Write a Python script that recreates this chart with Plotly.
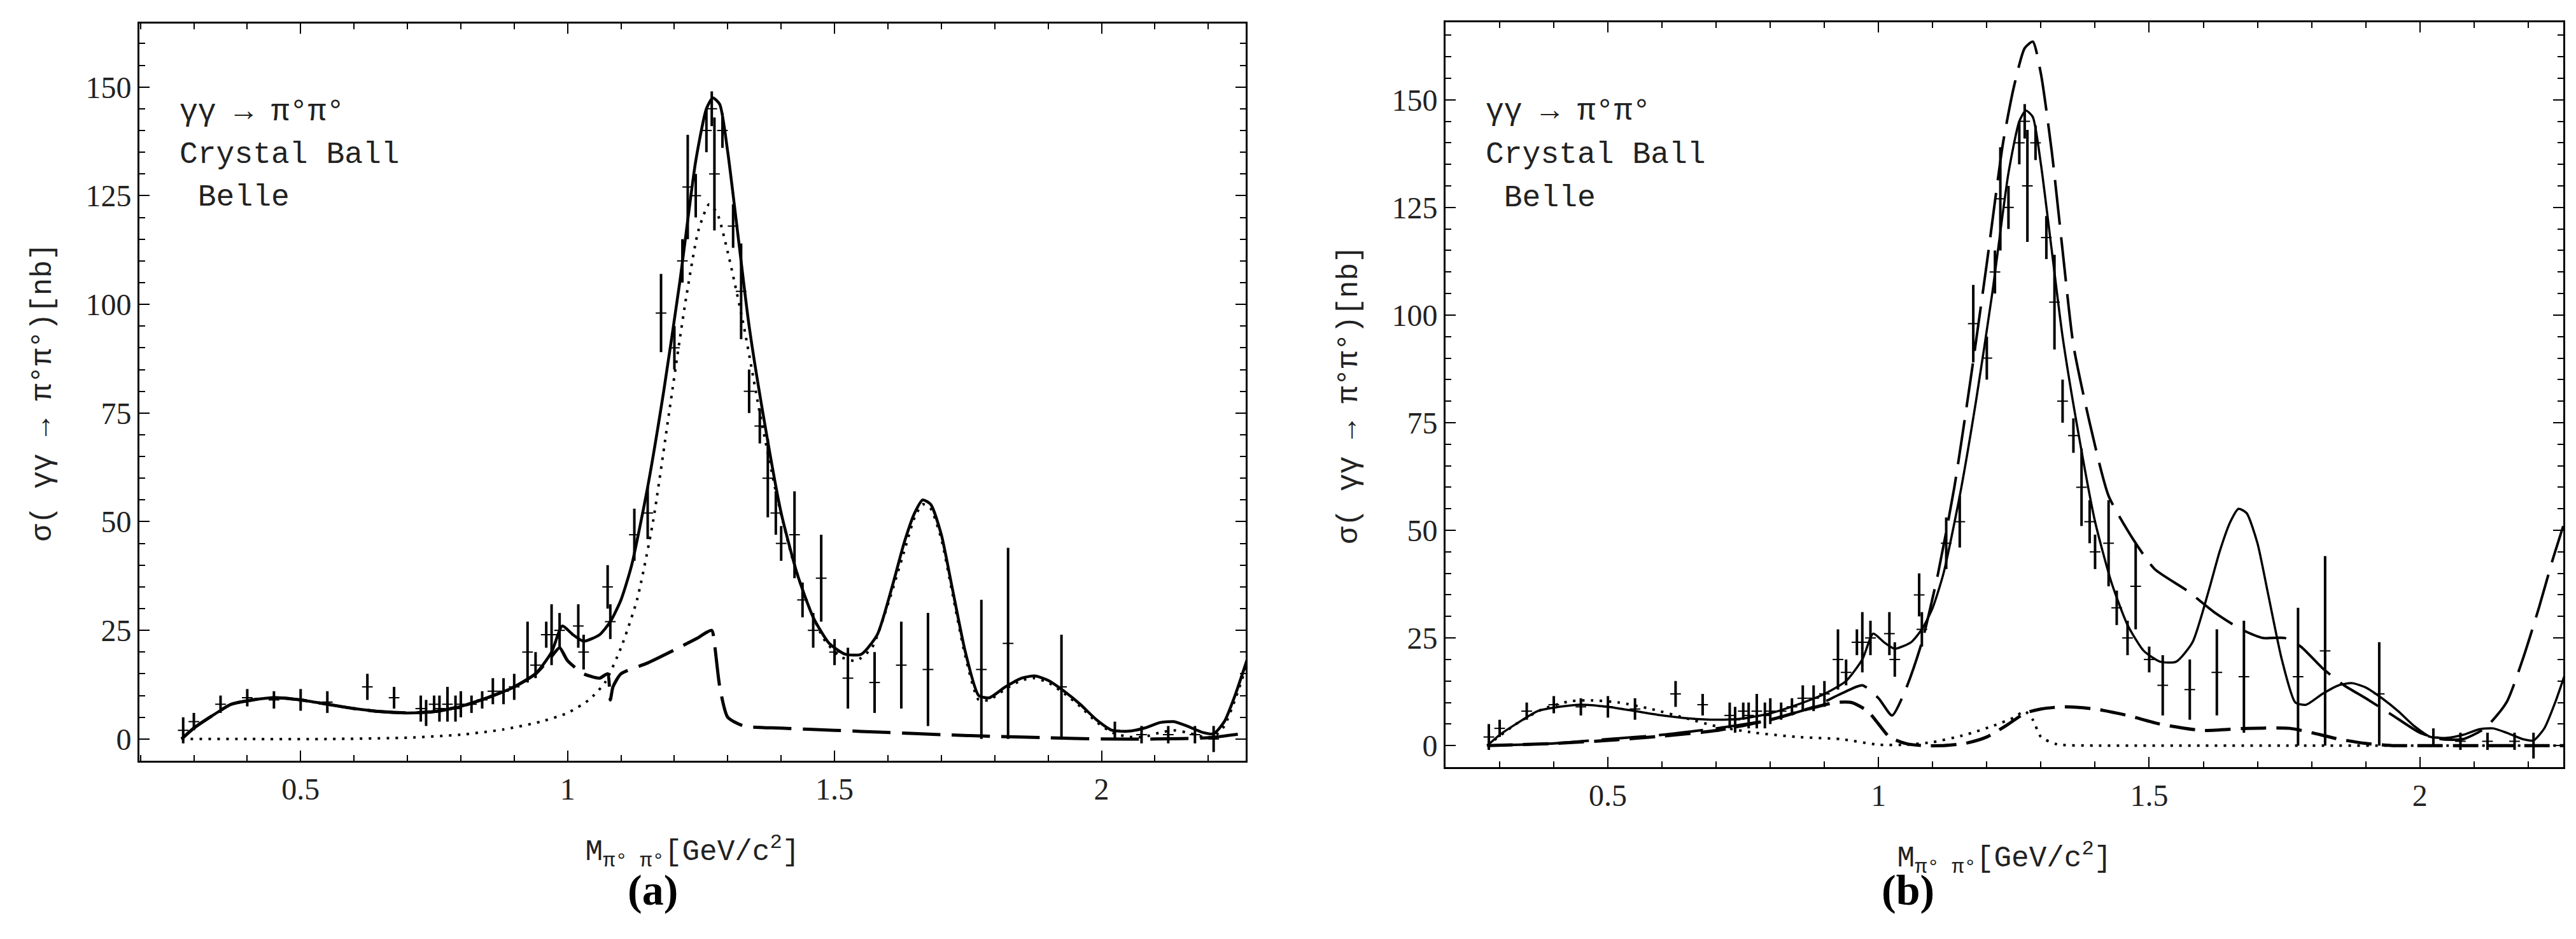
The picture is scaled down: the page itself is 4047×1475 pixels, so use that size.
import plotly.graph_objects as go

# ---------------- data ----------------
# experimental points (shared by both panels): mass, cross section, error
data_x = [0.28, 0.30, 0.35, 0.40, 0.45, 0.50, 0.55, 0.625, 0.675, 0.725, 0.735, 0.75, 0.76, 0.775, 0.79,
          0.80, 0.82, 0.84, 0.86, 0.88, 0.90, 0.925, 0.94, 0.96, 0.97, 0.985, 1.02, 1.03, 1.075, 1.08,
          1.125, 1.15, 1.175, 1.20, 1.215, 1.225, 1.24, 1.26, 1.27, 1.275, 1.29, 1.31, 1.325, 1.34,
          1.36, 1.375, 1.39, 1.40, 1.425, 1.44, 1.46, 1.475, 1.50, 1.525, 1.575, 1.625, 1.675, 1.775,
          1.825, 1.925, 2.025, 2.075, 2.125, 2.175, 2.21]
data_y = [2, 4, 8, 9.5, 9, 9, 8.5, 12, 9.5, 7, 6, 8, 7, 8, 7,
          8, 8, 9, 11, 11, 12, 20, 17, 24, 24, 25, 26, 20, 35, 27,
          47, 52, 98, 90, 110, 127, 125, 140, 145, 130, 140, 118, 103, 80,
          72, 60, 52, 45, 47, 32, 25, 37, 20, 14, 13, 17, 16, 16,
          22, 12, 2, 1, 1, 1, 0]
data_err = [3, 2, 2, 2, 2, 2.5, 2.5, 3, 2.5, 3, 3, 2, 3, 4, 3,
            3, 2, 2, 3, 3, 3, 7, 3, 3, 7, 4, 5, 4, 5, 4,
            6, 6, 9, 5, 5, 12, 5, 5, 4, 13, 4, 5, 11, 5,
            4, 9, 5, 4, 10, 4, 4, 10, 3, 7, 7, 10, 13, 16,
            22, 12, 2, 2, 2, 2, 3]

# panel (a) curves
a_full_x = [0.277, 0.30, 0.33, 0.37, 0.41, 0.45, 0.50, 0.55, 0.60, 0.65, 0.70, 0.75, 0.80, 0.85, 0.90,
            0.94, 0.97, 0.99, 1.01, 1.03, 1.06, 1.08, 1.10, 1.12, 1.15, 1.18, 1.21, 1.24, 1.26, 1.272,
            1.285, 1.30, 1.32, 1.34, 1.37, 1.40, 1.43, 1.46, 1.49, 1.52, 1.55, 1.58, 1.61, 1.63, 1.65,
            1.665, 1.68, 1.70, 1.72, 1.745, 1.77, 1.79, 1.82, 1.85, 1.875, 1.90, 1.93, 1.96, 1.99,
            2.02, 2.05, 2.08, 2.11, 2.135, 2.16, 2.19, 2.21, 2.23, 2.25, 2.28]
a_full_y = [0, 2.5, 5, 8, 9, 9.5, 9, 8, 7, 6.3, 6, 6.3, 7.5, 9.5, 12,
            15, 20, 26, 24, 22.5, 24, 27, 32, 40, 58, 80, 105, 133, 145, 147.5,
            146, 135, 115, 95, 72, 52, 38, 28, 22, 19.5, 19.5, 24, 36, 45, 52,
            55, 54, 47, 35, 20, 10, 9.5, 12, 14, 14.5, 13.5, 11, 8, 4.5,
            2, 1.8, 2.5, 3.8, 4, 3, 1.5, 1.2, 4, 10, 21]
a_dot_x = [0.277, 0.40, 0.55, 0.70, 0.80, 0.88, 0.95, 1.00, 1.04, 1.07, 1.10, 1.13, 1.16, 1.19, 1.22,
           1.245, 1.265, 1.28, 1.30, 1.33, 1.36, 1.39, 1.42, 1.45, 1.48, 1.51, 1.54, 1.57, 1.60, 1.63,
           1.65, 1.665, 1.68, 1.70, 1.72, 1.745, 1.77, 1.79, 1.82, 1.85, 1.875, 1.90, 1.93, 1.96, 1.99,
           2.02, 2.05, 2.08, 2.11, 2.135, 2.16, 2.19, 2.21, 2.23, 2.25, 2.28]
a_dot_y = [0, 0, 0, 0.3, 1, 2.2, 4, 6, 9, 13, 21, 32, 50, 75, 100,
           117, 123, 121, 112, 95, 75, 57, 42, 31, 23, 19, 18, 21, 31, 43,
           51, 54, 53, 46, 34, 19, 9, 9, 11.5, 13.5, 14, 13, 10.5, 7.5, 4,
           1.5, 0.5, 0.5, 1.5, 2, 1.5, 0.5, 0.5, 3, 9, 20]
a_dash_x = [0.277, 0.30, 0.33, 0.37, 0.41, 0.45, 0.50, 0.55, 0.60, 0.65, 0.70, 0.75, 0.80, 0.85, 0.90,
            0.94, 0.97, 0.985, 1.00, 1.03, 1.06, 1.075, 1.08, 1.085, 1.10, 1.15, 1.20, 1.24, 1.27,
            1.275, 1.285, 1.30, 1.33, 1.40, 1.50, 1.60, 1.70, 1.80, 1.90, 2.00, 2.10, 2.20, 2.28]
a_dash_y = [0, 2.5, 5, 8, 9, 9.5, 9, 8, 7, 6.3, 6, 6.3, 7.5, 9.5, 12,
            15, 19, 21, 18, 15, 14, 15, 9, 12, 15, 17.5, 20.5, 23, 25,
            22, 12, 5, 3, 2.5, 2, 1.5, 1, 0.6, 0.3, 0, 0, 0.3, 1.5]

# panel (b) curves
b_full_x = a_full_x
b_full_y = a_full_y
b_long_x = [0.277, 0.40, 0.50, 0.60, 0.70, 0.80, 0.88, 0.93, 0.97, 1.00, 1.025, 1.05, 1.08, 1.11, 1.14,
            1.17, 1.20, 1.23, 1.25, 1.27, 1.285, 1.30, 1.32, 1.34, 1.36, 1.39, 1.425, 1.47, 1.51, 1.57,
            1.62, 1.67, 1.71, 1.75, 1.78, 1.82, 1.86, 1.90, 1.95, 2.00, 2.04, 2.08, 2.12, 2.16, 2.19,
            2.22, 2.245, 2.265]
b_long_y = [0, 0.5, 1.5, 2.5, 4, 6, 9, 12, 14, 11, 7, 13, 24, 40, 60,
            85, 112, 140, 153, 162, 163.5, 156, 138, 115, 93, 75, 58, 48, 41, 36,
            31, 27, 25, 25, 23, 18, 14, 11, 7, 3, 1.5, 1.5, 4, 10, 20,
            32, 43, 51]
b_dash_x = [0.277, 0.40, 0.50, 0.60, 0.70, 0.80, 0.87, 0.92, 0.95, 0.98, 1.00, 1.02, 1.05, 1.08, 1.12,
            1.16, 1.20, 1.24, 1.27, 1.30, 1.34, 1.40, 1.46, 1.52, 1.60, 1.68, 1.76, 1.80, 1.85, 1.90,
            1.95, 2.00, 2.10, 2.20, 2.28]
b_dash_y = [0, 0.5, 1.2, 2.2, 3.5, 6, 8.5, 10, 10, 8, 5, 2, 0.5, 0, 0,
            0.5, 2, 5, 7.5, 8.5, 9, 8.5, 7, 5, 3.5, 4, 4, 3, 1.5, 0.5,
            0, 0, 0, 0, 0]
b_dot_x = [0.277, 0.33, 0.38, 0.43, 0.47, 0.52, 0.58, 0.64, 0.70, 0.77, 0.85, 0.93, 1.00, 1.05, 1.10,
           1.16, 1.21, 1.25, 1.27, 1.285, 1.30, 1.33, 1.40, 1.60, 1.80, 2.00, 2.20, 2.28]
b_dot_y = [0, 5, 8.5, 10.3, 10.5, 10, 8.5, 6.5, 4.5, 3, 2, 1.5, 0.2, 0.2, 0.8,
           2.5, 4.5, 6.5, 8, 6, 2, 0.3, 0, 0, 0, 0, 0, 0]

x_ticks = [0.5, 1, 1.5, 2]
x_tick_text = ["0.5", "1", "1.5", "2"]
y_ticks = [0, 25, 50, 75, 100, 125, 150]

# ---------------- figure ----------------
W, H = 4047, 1475
fig = go.Figure()

def line(x, y, dash, width, xa, ya):
    fig.add_trace(go.Scatter(x=x, y=y, mode="lines", xaxis=xa, yaxis=ya, showlegend=False,
                             line=dict(color="black", width=width, dash=dash, shape="spline",
                                       smoothing=0.6)))

def points(xa, ya):
    fig.add_trace(go.Scatter(x=data_x, y=data_y, mode="markers", xaxis=xa, yaxis=ya, showlegend=False,
                             marker=dict(symbol="line-ew", size=12, color="black",
                                         line=dict(color="black", width=2)),
                             error_y=dict(type="data", array=data_err, visible=True,
                                          color="black", thickness=4, width=0)))

# panel a
points("x", "y")
line(a_dot_x, a_dot_y, "4px,10px", 4, "x", "y")
line(a_dash_x, a_dash_y, "60px,18px", 5, "x", "y")
line(a_full_x, a_full_y, "solid", 4.5, "x", "y")
# panel b
points("x2", "y2")
line(b_dot_x, b_dot_y, "4px,10px", 4, "x2", "y2")
line(b_dash_x, b_dash_y, "40px,16px", 5, "x2", "y2")
line(b_long_x, b_long_y, "70px,20px", 4, "x2", "y2")
line(b_full_x, b_full_y, "solid", 3.5, "x2", "y2")

tickfont = dict(family="Liberation Serif", size=48, color="#222")
titlefont = dict(family="Liberation Mono", size=46, color="#222")

def xaxis(domain, rng, anchor):
    return dict(domain=domain, range=rng, anchor=anchor, showline=True, linecolor="black", linewidth=3,
                mirror="ticks", ticks="inside", ticklen=16, tickwidth=2, tickcolor="black",
                tickvals=x_ticks, ticktext=x_tick_text, tickfont=tickfont, showgrid=False, zeroline=False,
                minor=dict(dtick=0.1, tick0=0, ticks="inside", ticklen=9, tickwidth=2, tickcolor="black"),
                title=dict(text="M<sub>π° π°</sub>[GeV/c<sup>2</sup>]", font=titlefont, standoff=55))

def yaxis(domain, rng, anchor):
    return dict(domain=domain, range=rng, anchor=anchor, showline=True, linecolor="black", linewidth=3,
                mirror="ticks", ticks="inside", ticklen=16, tickwidth=2, tickcolor="black",
                tickvals=y_ticks, tickfont=tickfont, showgrid=False, zeroline=False,
                minor=dict(dtick=5, tick0=0, ticks="inside", ticklen=9, tickwidth=2, tickcolor="black"),
                title=dict(text="σ( γγ → π°π°)[nb]", font=titlefont, standoff=40))

fig.update_layout(
    width=W, height=H, margin=dict(l=0, r=0, t=0, b=0),
    paper_bgcolor="white", plot_bgcolor="white",
    xaxis=xaxis([211 / W, 1949 / W], [0.198, 2.27], "y"),
    yaxis=yaxis([1 - 1187 / H, 1 - 29 / H], [-5, 164.6], "x"),
    xaxis2=xaxis([2263 / W, 4019 / W], [0.2, 2.265], "y2"),
    yaxis2=yaxis([1 - 1197 / H, 1 - 27 / H], [-5, 168], "x2"),
)

labels = ["γγ → π°π°", "Crystal Ball", " Belle"]
for xr, yr, top in [("x domain", "y domain", 0.12), ("x2 domain", "y2 domain", 0.12)]:
    for i, t in enumerate(labels):
        fig.add_annotation(xref=xr, yref=yr, x=0.035, y=1 - top - 0.058 * i, text=t, showarrow=False,
                           xanchor="left", yanchor="middle",
                           font=dict(family="Liberation Mono", size=48, color="#222"))

for xc, t in [(976 / W, "(a)"), (3033 / W, "(b)")]:
    fig.add_annotation(xref="paper", yref="paper", x=xc, y=1 - 1430 / H, text="<b>" + t + "</b>",
                       showarrow=False, font=dict(family="Liberation Serif", size=68, color="black"))

fig.write_html("out.html")
